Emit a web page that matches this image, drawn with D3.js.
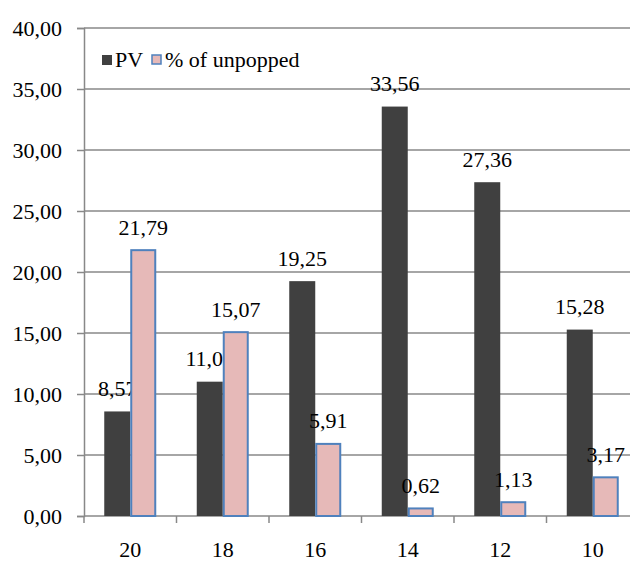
<!DOCTYPE html>
<html>
<head>
<meta charset="utf-8">
<script src="https://cdn.jsdelivr.net/npm/d3@7"></script>
<style>
html,body{margin:0;padding:0;background:#fff;}
svg{display:block;}
</style>
</head>
<body>
<svg id="chart" width="630" height="561"></svg>
<script>
const categories = ["20", "18", "16", "14", "12", "10"];
const pvValues = [8.57, 11.01, 19.25, 33.56, 27.36, 15.28];
const unpoppedValues = [21.79, 15.07, 5.91, 0.62, 1.13, 3.17];
const yTicks = [0, 5, 10, 15, 20, 25, 30, 35, 40];
const seriesNames = ["PV", "% of unpopped"];

(function () {
const svg = d3.select("#chart");
const plotLeft = 84, plotRight = 639, plotTop = 28, plotBottom = 516;
const fontSize = 22;
const FF = "Liberation Serif";
const grid = "#888888";
const pvColor = "#404040", pinkColor = "#e6b9b8", blueColor = "#4f81bd";

const y = d3.scaleLinear().domain([0, 40]).range([plotBottom, plotTop]);
const x = d3.scaleBand().domain(categories).range([plotLeft, plotRight]).padding(0);
const barW = 26;
const offset = (x.bandwidth() - 2 * barW) / 2;
const fmt = v => v.toFixed(2).replace(".", ",");

// gridlines
svg.append("g").selectAll("line").data(yTicks.filter(t => t > 0)).join("line")
  .attr("x1", plotLeft).attr("x2", plotRight)
  .attr("y1", d => y(d)).attr("y2", d => y(d))
  .attr("stroke", grid).attr("stroke-width", 1.5);

// y axis
const yAxis = d3.axisLeft(y).tickValues(yTicks).tickSize(7).tickFormat(fmt);
const yg = svg.append("g").attr("transform", `translate(${plotLeft},0)`).call(yAxis);
yg.attr("font-family", FF).attr("font-size", fontSize);
yg.select(".domain").attr("stroke", grid).attr("stroke-width", 1.5);
yg.selectAll(".tick line").attr("stroke", grid).attr("stroke-width", 1.5);
yg.selectAll(".tick text").attr("x", -22).attr("dy", null).attr("y", 7)
  .attr("font-size", fontSize).attr("font-family", FF).attr("fill", "#000");

// x axis
const xg = svg.append("g").attr("transform", `translate(0,${plotBottom})`);
xg.append("line").attr("x1", plotLeft).attr("x2", plotRight).attr("stroke", grid).attr("stroke-width", 1.5);
const boundaries = categories.map(c => x(c)).concat([plotRight]);
xg.selectAll("line.tk").data(boundaries).join("line").attr("class", "tk")
  .attr("x1", d => d).attr("x2", d => d).attr("y1", 0).attr("y2", 7)
  .attr("stroke", grid).attr("stroke-width", 1.5);
xg.selectAll("text").data(categories).join("text")
  .attr("x", d => x(d) + x.bandwidth() / 2).attr("y", 41)
  .attr("text-anchor", "middle").attr("font-size", fontSize).attr("font-family", FF).attr("fill", "#000")
  .text(d => d);

const data = categories.map((c, i) => ({c, pv: pvValues[i], un: unpoppedValues[i]}));

// PV bars
svg.append("g").selectAll("rect").data(data).join("rect")
  .attr("x", d => x(d.c) + offset).attr("width", barW)
  .attr("y", d => y(d.pv)).attr("height", d => y(0) - y(d.pv))
  .attr("fill", pvColor);
// PV labels
svg.append("g").selectAll("text").data(data).join("text")
  .attr("x", d => x(d.c) + offset + barW / 2).attr("y", d => y(d.pv) - 15.5)
  .attr("text-anchor", "middle").attr("font-size", fontSize).attr("font-family", FF).attr("fill", "#000")
  .text(d => fmt(d.pv));

// unpopped bars
svg.append("g").selectAll("rect").data(data).join("rect")
  .attr("x", d => x(d.c) + offset + barW + 1).attr("width", barW - 2)
  .attr("y", d => y(d.un)).attr("height", d => y(0) - y(d.un))
  .attr("fill", pinkColor).attr("stroke", blueColor).attr("stroke-width", 2);
svg.append("g").selectAll("text").data(data).join("text")
  .attr("x", d => x(d.c) + offset + barW * 1.5).attr("y", d => y(d.un) - 15.5)
  .attr("text-anchor", "middle").attr("font-size", fontSize).attr("font-family", FF).attr("fill", "#000")
  .text(d => fmt(d.un));

// legend
const lg = svg.append("g").attr("font-family", FF).attr("font-size", fontSize);
lg.append("rect").attr("x", 102).attr("y", 55).attr("width", 10).attr("height", 10).attr("fill", pvColor);
lg.append("text").attr("x", 115).attr("y", 66.5).attr("font-family", FF).attr("fill", "#000").text(seriesNames[0]);
lg.append("rect").attr("x", 152).attr("y", 55).attr("width", 9).attr("height", 9)
  .attr("fill", pinkColor).attr("stroke", blueColor).attr("stroke-width", 1.5);
lg.append("text").attr("x", 165).attr("y", 66.5).attr("font-family", FF).attr("fill", "#000").text(seriesNames[1]);
})();
</script>
</body>
</html>
